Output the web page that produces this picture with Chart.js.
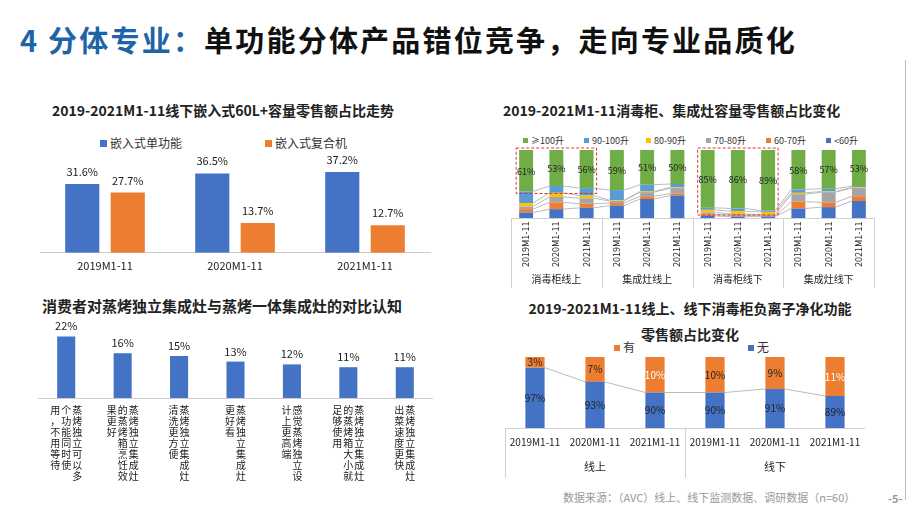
<!DOCTYPE html>
<html><head><meta charset="utf-8">
<script src="https://cdn.jsdelivr.net/npm/chart.js@4"></script>
<style>
body{margin:0;width:920px;height:518px;background:#fff;position:relative;overflow:hidden;font-family:"Noto Sans CJK SC","Noto Sans",sans-serif}
.a{position:absolute}
canvas{position:absolute}
.t{font-weight:bold;font-size:14px;color:#222;white-space:nowrap}
.lg{position:absolute;white-space:nowrap;color:#333}
.lg i{display:inline-block;width:7px;height:7px;margin-right:3px;vertical-align:middle;position:relative;top:-1px}
</style></head><body>
<div class="a" style="left:20px;top:18px;font-size:29px;letter-spacing:2.2px;font-weight:bold;white-space:nowrap"><span style="color:#1F63A8">4 分体专业：</span><span style="color:#111">单功能分体产品错位竞争，走向专业品质化</span></div>
<div class="a" style="left:905px;top:60px;width:1px;height:440px;background:#bbb"></div>
<div class="a t" style="left:52px;top:100px">2019-2021M1-11线下嵌入式60L+容量零售额占比走势</div>
<div class="a t" style="left:503px;top:100px">2019-2021M1-11消毒柜、集成灶容量零售额占比变化</div>
<div class="a t" style="left:42px;top:295px;font-size:15px">消费者对蒸烤独立集成灶与蒸烤一体集成灶的对比认知</div>
<div class="a t" style="left:520px;top:295px;width:340px;text-align:center;line-height:26px;white-space:normal">2019-2021M1-11线上、线下消毒柜负离子净化功能<br>零售额占比变化</div>
<div class="a" style="left:563px;top:489px;font-size:11px;color:#999">数据来源：（AVC）线上、线下监测数据、调研数据（n=60）</div>
<div class="a" style="left:888px;top:490px;font-size:11px;color:#999;font-weight:bold">-5-</div>

<div class="lg" style="left:100px;top:134px;font-size:12px"><i style="background:#4472C4"></i>嵌入式单功能</div>
<div class="lg" style="left:265px;top:134px;font-size:12px"><i style="background:#ED7D31"></i>嵌入式复合机</div>
<div class="lg" style="left:523px;top:134px;font-size:9px"><i style="background:#70AD47;width:5px;height:5px"></i>≥100升</div>
<div class="lg" style="left:584px;top:134px;font-size:9px"><i style="background:#5B9BD5;width:5px;height:5px"></i>90-100升</div>
<div class="lg" style="left:646px;top:134px;font-size:9px"><i style="background:#FFC000;width:5px;height:5px"></i>80-90升</div>
<div class="lg" style="left:706px;top:134px;font-size:9px"><i style="background:#A5A5A5;width:5px;height:5px"></i>70-80升</div>
<div class="lg" style="left:766px;top:134px;font-size:9px"><i style="background:#ED7D31;width:5px;height:5px"></i>60-70升</div>
<div class="lg" style="left:826px;top:134px;font-size:9px"><i style="background:#4472C4;width:5px;height:5px"></i>&lt;60升</div>
<div class="lg" style="left:614px;top:338px;font-size:12px"><i style="background:#ED7D31;width:6px;height:6px"></i>有</div>
<div class="lg" style="left:748px;top:338px;font-size:12px"><i style="background:#4472C4;width:6px;height:6px"></i>无</div>

<canvas id="c1" width="400" height="165" style="left:35px;top:125px;width:400px;height:165px"></canvas>
<canvas id="c2" width="375" height="160" style="left:505px;top:128px;width:375px;height:160px"></canvas>
<canvas id="c3" width="395" height="180" style="left:38px;top:315px;width:395px;height:180px"></canvas>
<canvas id="c4" width="360" height="140" style="left:505px;top:338px;width:360px;height:140px"></canvas>
<script>
const BLUE='#4472C4',ORANGE='#ED7D31';
const FONT='"Noto Sans CJK SC","Noto Sans",sans-serif';
Chart.defaults.font.family=FONT;Chart.defaults.color='#222';
Chart.defaults.animation=false;

// chart 1
const c1Cats=['2019M1-11','2020M1-11','2021M1-11'];
const c1Single=[31.6,36.5,37.2];
const c1Combo=[27.7,13.7,12.7];
// chart 2
const c2Years=['2019M1-11','2020M1-11','2021M1-11','2019M1-11','2020M1-11','2021M1-11','2019M1-11','2020M1-11','2021M1-11','2019M1-11','2020M1-11','2021M1-11'];
const c2Groups=['消毒柜线上','集成灶线上','消毒柜线下','集成灶线下'];
const c2Lt60=[8,13,15,18,28,33,3,2,2,14,16,25];
const c2_60_70=[5,10,6,4,4,3,2,2,1,10,7,7];
const c2_70_80=[4,8,8,3,6,8,3,2,2,11,15,12];
const c2_80_90=[5,6,4,1,1,1,4,4,4,2,1,1];
const c2_90_100=[17,10,11,15,10,5,3,4,2,5,4,2];
const c2Ge100=[61,53,56,59,51,50,85,86,89,58,57,53];
// chart 3
const c3Labels=[['蒸烤独立可以多','个功能同时使','用，不用等待'],['蒸烤独立集成灶','的蒸烤箱烹饪效','果更好'],['蒸烤独立集成灶','清洗更方便'],['蒸烤独立集成灶','更好看'],['感觉蒸烤独立设','计上更高端'],['蒸烤独立集成灶','的蒸烤箱大小就','足够使用'],['蒸烤独立集成灶','出菜速度更快']];
const c3Values=[22,16,15,13,12,11,11];
// chart 4
const c4Years=['2019M1-11','2020M1-11','2021M1-11','2019M1-11','2020M1-11','2021M1-11'];
const c4Groups=['线上','线下'];
const c4No=[97,93,90,90,91,89];
const c4Yes=[3,7,10,10,9,11];

new Chart(c1,{type:'bar',data:{labels:c1Cats,datasets:[
 {label:'嵌入式单功能',data:c1Single,backgroundColor:BLUE},
 {label:'嵌入式复合机',data:c1Combo,backgroundColor:ORANGE}]},
 options:{responsive:false,layout:{padding:{top:30,left:5,right:5,bottom:12}},
 plugins:{legend:{display:false},tooltip:{enabled:false}},
 scales:{y:{display:false,min:0,max:45},x:{grid:{display:false,drawTicks:false},border:{color:'#ccc'},ticks:{font:{size:11},padding:6}}},
 datasets:{bar:{categoryPercentage:0.7,barPercentage:0.75}}},
 plugins:[{id:'v1',afterDatasetsDraw(ch){const x=ch.ctx;x.save();x.font='11px '+FONT;x.fillStyle='#222';x.textAlign='center';
 ch.data.datasets.forEach((d,i)=>ch.getDatasetMeta(i).data.forEach((b,j)=>x.fillText(d.data[j].toFixed(1)+'%',b.x,b.y-8)));x.restore();}}]});

function linesPlugin(id,skip,sets){return {id,beforeDatasetsDraw(ch){const x=ch.ctx;x.save();x.strokeStyle='#bbb';x.lineWidth=1;
 (sets||ch.data.datasets.map((_,i)=>i)).forEach(i=>{const m=ch.getDatasetMeta(i).data;for(let j=0;j<m.length-1;j++){if(skip.includes(j))continue;
 x.beginPath();x.moveTo(m[j].x+m[j].width/2,m[j].y);x.lineTo(m[j+1].x-m[j+1].width/2,m[j+1].y);x.stroke();}});x.restore();}};}

function tablePlugin(id,groups,per,rot,h1,h2,fs){return {id,afterDraw(ch){const x=ch.ctx,s=ch.scales.x,a=ch.chartArea;x.save();
 const n=ch.data.labels.length,w=(s.right-s.left)/n,top=a.bottom,bot=a.bottom+h1+h2;x.strokeStyle='#d0d0d0';x.lineWidth=1;
 x.beginPath();x.moveTo(s.left,top+.5);x.lineTo(s.right,top+.5);
 for(let g=0;g<=groups.length;g++){const px=Math.round(s.left+g*per*w)+.5;x.moveTo(px,top);x.lineTo(px,bot);}x.stroke();
 x.fillStyle='#222';x.font=fs+'px '+FONT;
 ch.data.labels.forEach((l,i)=>{const px=s.getPixelForValue(i);if(rot){x.save();x.translate(px+3,top+h1-3);x.rotate(-Math.PI/2);x.textAlign='left';x.fillText(l,0,0);x.restore();}
 else{x.textAlign='center';x.fillText(l,px,top+h1*0.7);}});
 x.font=(fs+1)+'px '+FONT;x.textAlign='center';groups.forEach((g,k)=>x.fillText(g,s.left+(k+0.5)*per*w,top+h1+h2*0.72));x.restore();}};}

new Chart(c2,{type:'bar',data:{labels:c2Years,datasets:[
 {label:'<60升',data:c2Lt60,backgroundColor:BLUE,stack:'s'},
 {label:'60-70升',data:c2_60_70,backgroundColor:ORANGE,stack:'s'},
 {label:'70-80升',data:c2_70_80,backgroundColor:'#A5A5A5',stack:'s'},
 {label:'80-90升',data:c2_80_90,backgroundColor:'#FFC000',stack:'s'},
 {label:'90-100升',data:c2_90_100,backgroundColor:'#5B9BD5',stack:'s'},
 {label:'≥100升',data:c2Ge100,backgroundColor:'#70AD47',stack:'s'}]},
 options:{responsive:false,layout:{padding:{top:22,bottom:70,left:6,right:6}},
 plugins:{legend:{display:false},tooltip:{enabled:false}},
 scales:{y:{display:false,stacked:true,min:0,max:100},x:{display:false,stacked:true}},
 datasets:{bar:{categoryPercentage:1,barPercentage:0.46}}},
 plugins:[linesPlugin('l2',[5],[0,1,2,3,4]),tablePlugin('t2',c2Groups,3,true,52,18,9),{id:'v2',afterDraw(ch){const x=ch.ctx;x.save();x.font='9px '+FONT;x.fillStyle='#222';x.textAlign='center';
 const m=ch.getDatasetMeta(5).data;m.forEach((b,j)=>x.fillText(c2Ge100[j]+'%',b.x,(b.y+b.base)/2+4));
 x.strokeStyle='#d33';x.setLineDash([3,2]);x.lineWidth=1;
 [[0,2],[6,8]].forEach(([i,k])=>{const l=m[i].x-m[i].width/2-3,r=m[k].x+m[k].width/2+3,t=ch.chartArea.top-2,b=(i==6?ch.chartArea.bottom-3:m[i].base+2);x.strokeRect(l,t,r-l,b-t);});
 x.restore();}}]});

new Chart(c3,{type:'bar',data:{labels:c3Labels.map((_,i)=>i),datasets:[{data:c3Values,backgroundColor:BLUE}]},
 options:{responsive:false,layout:{padding:{top:13,bottom:97}},
 plugins:{legend:{display:false},tooltip:{enabled:false}},
 scales:{y:{display:false,min:0,max:25},x:{ticks:{display:false},grid:{display:false,drawTicks:false},border:{color:'#ccc'}}},
 datasets:{bar:{categoryPercentage:1,barPercentage:0.32}}},
 plugins:[{id:'v3',afterDraw(ch){const x=ch.ctx;x.save();x.fillStyle='#222';x.textAlign='center';
 const m=ch.getDatasetMeta(0).data;m.forEach((b,j)=>{x.font='11px '+FONT;x.fillText(c3Values[j]+'%',b.x,b.y-6);
 x.font='10px '+FONT;const cols=c3Labels[j];cols.forEach((c,k)=>{const cx=b.x+((cols.length-1)/2-k)*11;[...c].forEach((ch2,q)=>x.fillText(ch2,cx,ch.chartArea.bottom+16+q*11));});});x.restore();}}]});

new Chart(c4,{type:'bar',data:{labels:c4Years,datasets:[
 {label:'无',data:c4No,backgroundColor:BLUE,stack:'s'},
 {label:'有',data:c4Yes,backgroundColor:ORANGE,stack:'s'}]},
 options:{responsive:false,layout:{padding:{top:19,bottom:50,left:0,right:0}},
 plugins:{legend:{display:false},tooltip:{enabled:false}},
 scales:{y:{display:false,stacked:true,min:80,max:100},x:{display:false,stacked:true}},
 datasets:{bar:{categoryPercentage:1,barPercentage:0.32}}},
 plugins:[linesPlugin('l4',[],[0]),tablePlugin('t4',c4Groups,3,false,26,24,10),{id:'v4',afterDraw(ch){const x=ch.ctx;x.save();x.font='10px '+FONT;x.textAlign='center';
 [0,1].forEach(i=>ch.getDatasetMeta(i).data.forEach((b,j)=>{const base=Math.min(b.base,ch.chartArea.bottom);x.fillStyle=(i==1&&(j==2||j==5))?'#fff':'#222';x.fillText(ch.data.datasets[i].data[j]+'%',b.x,(b.y+base)/2+4);}));x.restore();}}]});
</script></body></html>
